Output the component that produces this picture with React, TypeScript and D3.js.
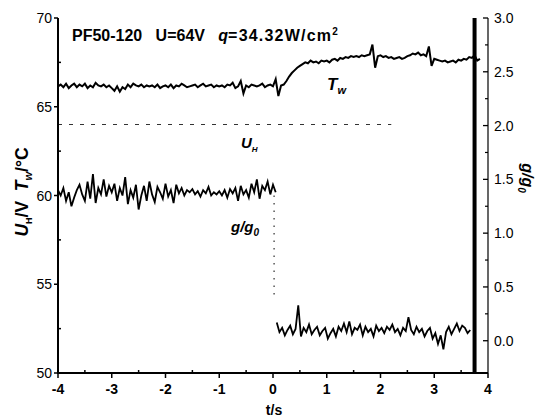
import React from 'react';
import * as d3 from 'd3';

// sampled every 0.05 s
const twStart = -4;
const twValues = [
  66.15, 66.25, 66.1, 66.3, 66.05, 66.2, 66.3, 66.1, 66.25, 66.15,
  66.3, 66.05, 66.2, 66.1, 66.35, 66.2, 66.15, 66.25, 66.1, 66.2,
  66.05, 65.9, 66.15, 65.85, 66.1, 66.0, 66.25, 66.1, 66.3, 66.2,
  66.15, 66.25, 66.1, 66.2, 66.15, 66.2, 66.1, 66.25, 66.05, 66.15,
  66.2, 66.1, 66.25, 66.05, 66.2, 66.15, 66.3, 66.2, 66.1, 66.15,
  66.2, 66.25, 66.1, 66.2, 66.3, 66.15, 66.2, 66.25, 66.1, 66.2,
  66.15, 66.2, 66.1, 66.25, 66.2, 66.35, 66.05, 66.15, 66.45, 65.75,
  66.2, 66.1, 66.25, 66.2, 66.15, 66.2, 66.3, 66.1, 66.2, 66.25,
  66.15, 66.55, 65.6, 66.2, 66.25, 66.45, 66.7, 66.9, 67.05, 67.2,
  67.3, 67.4, 67.5, 67.45, 67.6, 67.5, 67.55, 67.45, 67.6, 67.55,
  67.6, 67.5, 67.65, 67.7, 67.6, 67.75, 67.7, 67.8, 67.75, 67.85,
  67.8, 67.85, 67.8, 67.9, 67.85, 67.9, 67.95, 68.5, 67.2, 67.85,
  67.9, 67.8, 67.85, 67.75, 67.8, 67.7, 67.75, 67.8, 67.7, 67.75,
  67.85, 67.9, 68.0, 67.95, 68.05, 67.9, 67.95, 67.85, 68.4, 67.3,
  67.7, 67.65, 67.6, 67.55, 67.6, 67.5, 67.55, 67.6, 67.5, 67.65,
  67.6, 67.7, 67.65, 67.8, 67.75, 67.9, 67.6, 67.7,
];

const uhTimes = [-4, 2.2];
const uhValues = [64, 64];

// g/g0 before the drop, -4 .. 0.05 s
const gBeforeStart = -4;
const gBefore = [
  1.40, 1.35, 1.42, 1.30, 1.38, 1.25, 1.33, 1.40, 1.45, 1.36,
  1.30, 1.48, 1.32, 1.55, 1.28, 1.42, 1.36, 1.50, 1.34, 1.44,
  1.38, 1.46, 1.30, 1.42, 1.35, 1.52, 1.27, 1.40, 1.33, 1.45,
  1.22, 1.35, 1.44, 1.30, 1.48, 1.36, 1.29, 1.43, 1.38, 1.32,
  1.46, 1.34, 1.40, 1.28, 1.45, 1.37, 1.42, 1.35, 1.40, 1.38,
  1.41, 1.36, 1.39, 1.34, 1.40, 1.37, 1.43, 1.35, 1.38, 1.36,
  1.39, 1.35, 1.40, 1.33, 1.41, 1.37, 1.42, 1.30, 1.44, 1.36,
  1.40, 1.33, 1.46, 1.38, 1.50, 1.32, 1.44, 1.40, 1.48, 1.36,
  1.45, 1.38,
];

const dropTimes = [0.02, 0.02];
const dropValues = [1.35, 0.4];

// g/g0 after the drop, 0.07 .. 3.67 s
const gAfterStart = 0.07;
const gAfter = [
  0.17, 0.08, 0.12, 0.05, 0.10, 0.14, 0.06, 0.11, 0.33, 0.04,
  0.12, 0.08, 0.15, 0.06, 0.10, 0.13, 0.05, 0.09, 0.12, 0.02,
  0.07, 0.11, 0.04, 0.13, 0.09, 0.16, 0.08, 0.18, 0.06, 0.12,
  0.10, 0.15, 0.05, 0.13, 0.08, 0.11, 0.04, 0.14, 0.09, 0.12,
  0.07, 0.13, 0.10, 0.15, 0.08, 0.11, 0.05, 0.12, 0.09, 0.22,
  0.10, 0.06, 0.13, 0.08, 0.11, 0.04, 0.09, 0.12, 0.02, 0.07,
  -0.03, 0.05, -0.08, 0.08, 0.13, 0.06, 0.11, 0.16, 0.09, 0.14,
  0.12, 0.07, 0.10,
];

const cutTimes = [3.75, 3.75];
const cutValues = [-0.3, 3.0];

const xTicks = [-4, -3, -2, -1, 0, 1, 2, 3, 4];
const leftTicks = [50, 55, 60, 65, 70];
const rightTicks = [0, 0.5, 1.0, 1.5, 2.0, 2.5, 3.0];

const step = 0.05;

type Pt = [number, number];

export default function App() {
  const left = 58, right = 488, top = 18, bottom = 373;
  const x = d3.scaleLinear().domain([-4, 4]).range([left, right]);
  const yL = d3.scaleLinear().domain([50, 70]).range([bottom, top]);
  const yR = d3.scaleLinear().domain([-0.3, 3.0]).range([bottom, top]);

  const lineL = d3.line<Pt>().x(d => x(d[0])).y(d => yL(d[1]));
  const lineR = d3.line<Pt>().x(d => x(d[0])).y(d => yR(d[1]));

  const twPts: Pt[] = twValues.map((v, i) => [twStart + i * step, v]);
  const gBeforePts: Pt[] = gBefore.map((v, i) => [gBeforeStart + i * step, v]);
  const gAfterPts: Pt[] = gAfter.map((v, i) => [gAfterStart + i * step, v]);
  const zip = (a: number[], b: number[]): Pt[] => a.map((t, i) => [t, b[i]]);

  const font = 'Liberation Sans, Arial, sans-serif';
  const minorX = d3.range(-3.5, 4, 1);
  const minorL = [52.5, 57.5, 62.5, 67.5];
  const minorR = d3.range(0.25, 3.0, 0.5);

  return (
    <svg width={537} height={419} style={{ position: 'absolute', left: 0, top: 0, background: '#fff' }}
      fontFamily={font}>
      <rect width={537} height={419} fill="#fff" />
      {/* data */}
      <path d={lineL(zip(uhTimes, uhValues)) || ''}
        fill="none" stroke="#333" strokeWidth={1.2} strokeDasharray="4,7" />
      <path d={lineL(twPts) || ''} fill="none" stroke="#000" strokeWidth={2} />
      <path d={lineR(gBeforePts) || ''} fill="none" stroke="#000" strokeWidth={1.8} />
      <path d={lineR(zip(dropTimes, dropValues)) || ''} fill="none" stroke="#000" strokeWidth={1} strokeDasharray="1.5,6" />
      <path d={lineR(gAfterPts) || ''} fill="none" stroke="#000" strokeWidth={1.8} />
      <path d={lineR(zip(cutTimes, cutValues)) || ''} fill="none" stroke="#000" strokeWidth={4} />

      {/* axes */}
      <line x1={left} x2={left} y1={top} y2={bottom + 1} stroke="#000" strokeWidth={2} />
      <line x1={left} x2={right} y1={bottom} y2={bottom} stroke="#000" strokeWidth={2} />
      <line x1={right} x2={right} y1={top} y2={bottom} stroke="#000" strokeWidth={1.2} />

      {xTicks.map(t => (
        <g key={'x' + t}>
          <line x1={x(t)} x2={x(t)} y1={bottom} y2={bottom + 5} stroke="#000" strokeWidth={1.5} />
          <text x={x(t)} y={bottom + 21} textAnchor="middle" fontSize={14} fontWeight="bold">{t}</text>
        </g>
      ))}
      {minorX.map(t => (
        <line key={'mx' + t} x1={x(t)} x2={x(t)} y1={bottom} y2={bottom - 3} stroke="#000" strokeWidth={1.5} />
      ))}
      {leftTicks.map(v => (
        <g key={'l' + v}>
          <line x1={left - 4} x2={left} y1={yL(v)} y2={yL(v)} stroke="#000" strokeWidth={1.5} />
          <text x={left - 6} y={yL(v) + 5} textAnchor="end" fontSize={14}>{v}</text>
        </g>
      ))}
      {minorL.map(v => (
        <line key={'ml' + v} x1={left} x2={left + 3} y1={yL(v)} y2={yL(v)} stroke="#000" strokeWidth={1.5} />
      ))}
      {rightTicks.map(v => (
        <g key={'r' + v}>
          <line x1={right - 5} x2={right} y1={yR(v)} y2={yR(v)} stroke="#000" strokeWidth={1.3} />
          <text x={right + 6} y={yR(v) + 5} fontSize={14}>{v.toFixed(1)}</text>
        </g>
      ))}
      {minorR.map(v => (
        <line key={'mr' + v} x1={right - 3} x2={right} y1={yR(v)} y2={yR(v)} stroke="#000" strokeWidth={1.2} />
      ))}

      {/* titles */}
      <text x={72} y={41} fontSize={16} fontWeight="bold">
        PF50-120{'\u00a0\u00a0\u00a0'}U=64V{'\u00a0\u00a0\u00a0'}<tspan fontStyle="italic">q</tspan>
        <tspan letterSpacing={1.2}>=34.32W/cm</tspan>
        <tspan dy={-6} fontSize={10}>2</tspan>
      </text>
      <text x={327} y={90} fontSize={17} fontWeight="bold" fontStyle="italic">
        T<tspan dy={4} fontSize={11}>w</tspan>
      </text>
      <text x={241} y={148} fontSize={15} fontWeight="bold" fontStyle="italic">
        U<tspan dy={4} fontSize={8}>H</tspan>
      </text>
      <text x={231} y={232} fontSize={15} fontWeight="bold" fontStyle="italic">
        g/g<tspan dy={4} fontSize={10}>0</tspan>
      </text>
      <text transform="translate(28,192) rotate(-90)" textAnchor="middle" fontSize={17.5} fontWeight="bold">
        <tspan fontStyle="italic">U</tspan><tspan dy={4} fontSize={9}>H</tspan><tspan dy={-4}>/V{'\u00a0\u00a0'}</tspan>
        <tspan fontStyle="italic">T</tspan><tspan dy={4} fontSize={11} fontStyle="italic">w</tspan><tspan dy={-4}>/°C</tspan>
      </text>
      <text transform="translate(522,178) rotate(90)" textAnchor="middle" fontSize={16} fontWeight="bold" fontStyle="italic">
        g/g<tspan dy={4} fontSize={10}>0</tspan>
      </text>
      <text x={274} y={415} textAnchor="middle" fontSize={14} fontWeight="bold">t/s</text>
    </svg>
  );
}
